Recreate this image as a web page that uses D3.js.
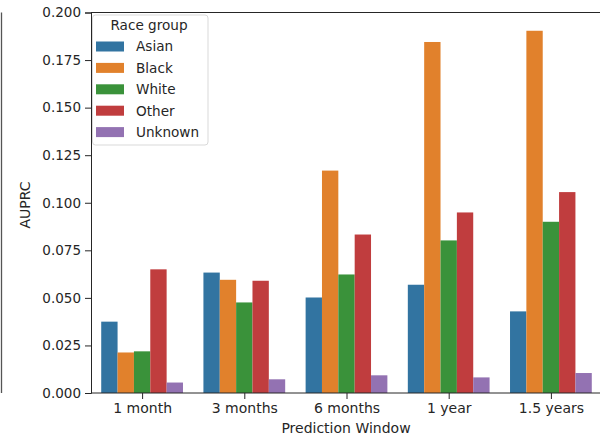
<!DOCTYPE html>
<html>
<head>
<meta charset="utf-8">
<script src="https://cdn.jsdelivr.net/npm/d3@7"></script>
<style>
  html, body { margin: 0; padding: 0; background: #fff; }
  svg { display: block; font-family: "DejaVu Sans", sans-serif; }
</style>
</head>
<body>
<svg id="chart" width="600" height="444"></svg>
<script>
// Prediction windows along the x axis
const windows = ["1 month", "3 months", "6 months", "1 year", "1.5 years"];
// Race groups (legend order)
const groups = ["Asian", "Black", "White", "Other", "Unknown"];
// AUPRC per race group, one value per prediction window
const asian   = [0.0375, 0.0633, 0.0502, 0.0569, 0.0429];
const black   = [0.0213, 0.0595, 0.1169, 0.1845, 0.1904];
const white   = [0.0219, 0.0476, 0.0623, 0.0802, 0.0900];
const other   = [0.0650, 0.0590, 0.0833, 0.0949, 0.1056];
const unknown = [0.0055, 0.0072, 0.0093, 0.0082, 0.0105];
// Y axis tick values
const yTicks = [0, 0.025, 0.05, 0.075, 0.1, 0.125, 0.15, 0.175, 0.2];
const palette = ["#3274a1", "#e1812c", "#3a923a", "#c03d3e", "#9372b2"];

(function draw() {
  const seriesValues = [asian, black, white, other, unknown];
  const rows = [];
  groups.forEach((g, gi) => {
    windows.forEach((w, wi) => rows.push({ group: g, window: w, value: seriesValues[gi][wi] }));
  });

  const svg = d3.select("#chart");
  const ink = "#262626";
  const plotLeft = 91, plotRight = 602, plotTop = 12.5, plotBottom = 393;

  // categorical spacing: centers one unit apart, half-unit margins at each end
  const step = (plotRight - plotLeft) / windows.length;
  const xPos = d3.scalePoint().domain(windows)
    .range([plotLeft + step / 2, plotRight - step / 2]);
  const groupWidth = step * 0.8;
  const xs = d3.scaleBand().domain(groups).range([-groupWidth / 2, groupWidth / 2]).padding(0);
  const y = d3.scaleLinear().domain([0, 0.2]).range([plotBottom, plotTop]);
  const color = d3.scaleOrdinal().domain(groups).range(palette);

  // Neighbouring panel's edge on the far left
  svg.append("line").attr("x1", 1.5).attr("x2", 1.5).attr("y1", plotTop).attr("y2", plotBottom)
    .attr("stroke", "#555").attr("stroke-width", 1.3);

  // Bars
  svg.append("g").selectAll("rect").data(rows).join("rect")
    .attr("x", d => xPos(d.window) + xs(d.group))
    .attr("width", xs.bandwidth())
    .attr("y", d => y(d.value))
    .attr("height", d => y(0) - y(d.value))
    .attr("fill", d => color(d.group));

  // Y axis
  const yAxis = d3.axisLeft(y).tickValues(yTicks).tickFormat(d3.format(".3f")).tickSize(6).tickPadding(4);
  const gy = svg.append("g").attr("transform", `translate(${plotLeft},0)`).call(yAxis);
  gy.select(".domain").attr("stroke", ink).attr("stroke-width", 1);
  gy.selectAll(".tick line").attr("stroke", ink).attr("stroke-width", 1);
  gy.selectAll(".tick text").attr("fill", ink).style("font-size", "13.5px").style("font-family", "DejaVu Sans");

  // X axis
  const xAxis = d3.axisBottom(xPos).tickSize(6).tickPadding(4).tickSizeOuter(0);
  const gx = svg.append("g").attr("transform", `translate(0,${plotBottom})`).call(xAxis);
  gx.select(".domain").remove();
  gx.selectAll(".tick line").attr("stroke", ink).attr("stroke-width", 1);
  gx.selectAll(".tick text").attr("fill", ink).style("font-size", "14px").style("font-family", "DejaVu Sans");
  svg.append("line").attr("x1", plotLeft).attr("x2", 600).attr("y1", plotBottom).attr("y2", plotBottom)
    .attr("stroke", ink).attr("stroke-width", 1);

  // Top spine
  svg.append("line").attr("x1", plotLeft).attr("x2", 600).attr("y1", plotTop).attr("y2", plotTop)
    .attr("stroke", ink).attr("stroke-width", 1);

  // Axis titles
  svg.append("text").attr("x", 346).attr("y", 433).attr("text-anchor", "middle")
    .attr("fill", ink).style("font-size", "14px").text("Prediction Window");
  svg.append("text").attr("transform", "translate(30,205) rotate(-90)").attr("text-anchor", "middle")
    .attr("fill", ink).style("font-size", "14px").text("AUPRC");

  // Legend
  const lg = svg.append("g");
  lg.append("rect").attr("x", 92.5).attr("y", 15).attr("width", 115.5).attr("height", 130).attr("rx", 3)
    .attr("fill", "rgba(255,255,255,0.8)").attr("stroke", "#d9d9d9").attr("stroke-width", 1);
  lg.append("text").attr("x", 149).attr("y", 30).attr("text-anchor", "middle")
    .attr("fill", ink).style("font-size", "13.6px").text("Race group");
  groups.forEach((g, i) => {
    const cy = 46.5 + i * 21.4;
    lg.append("rect").attr("x", 96).attr("y", cy - 5).attr("width", 28).attr("height", 10).attr("fill", color(g));
    lg.append("text").attr("x", 136).attr("y", cy + 4.8).attr("fill", ink).style("font-size", "13.6px").text(g);
  });
})();
</script>
</body>
</html>
